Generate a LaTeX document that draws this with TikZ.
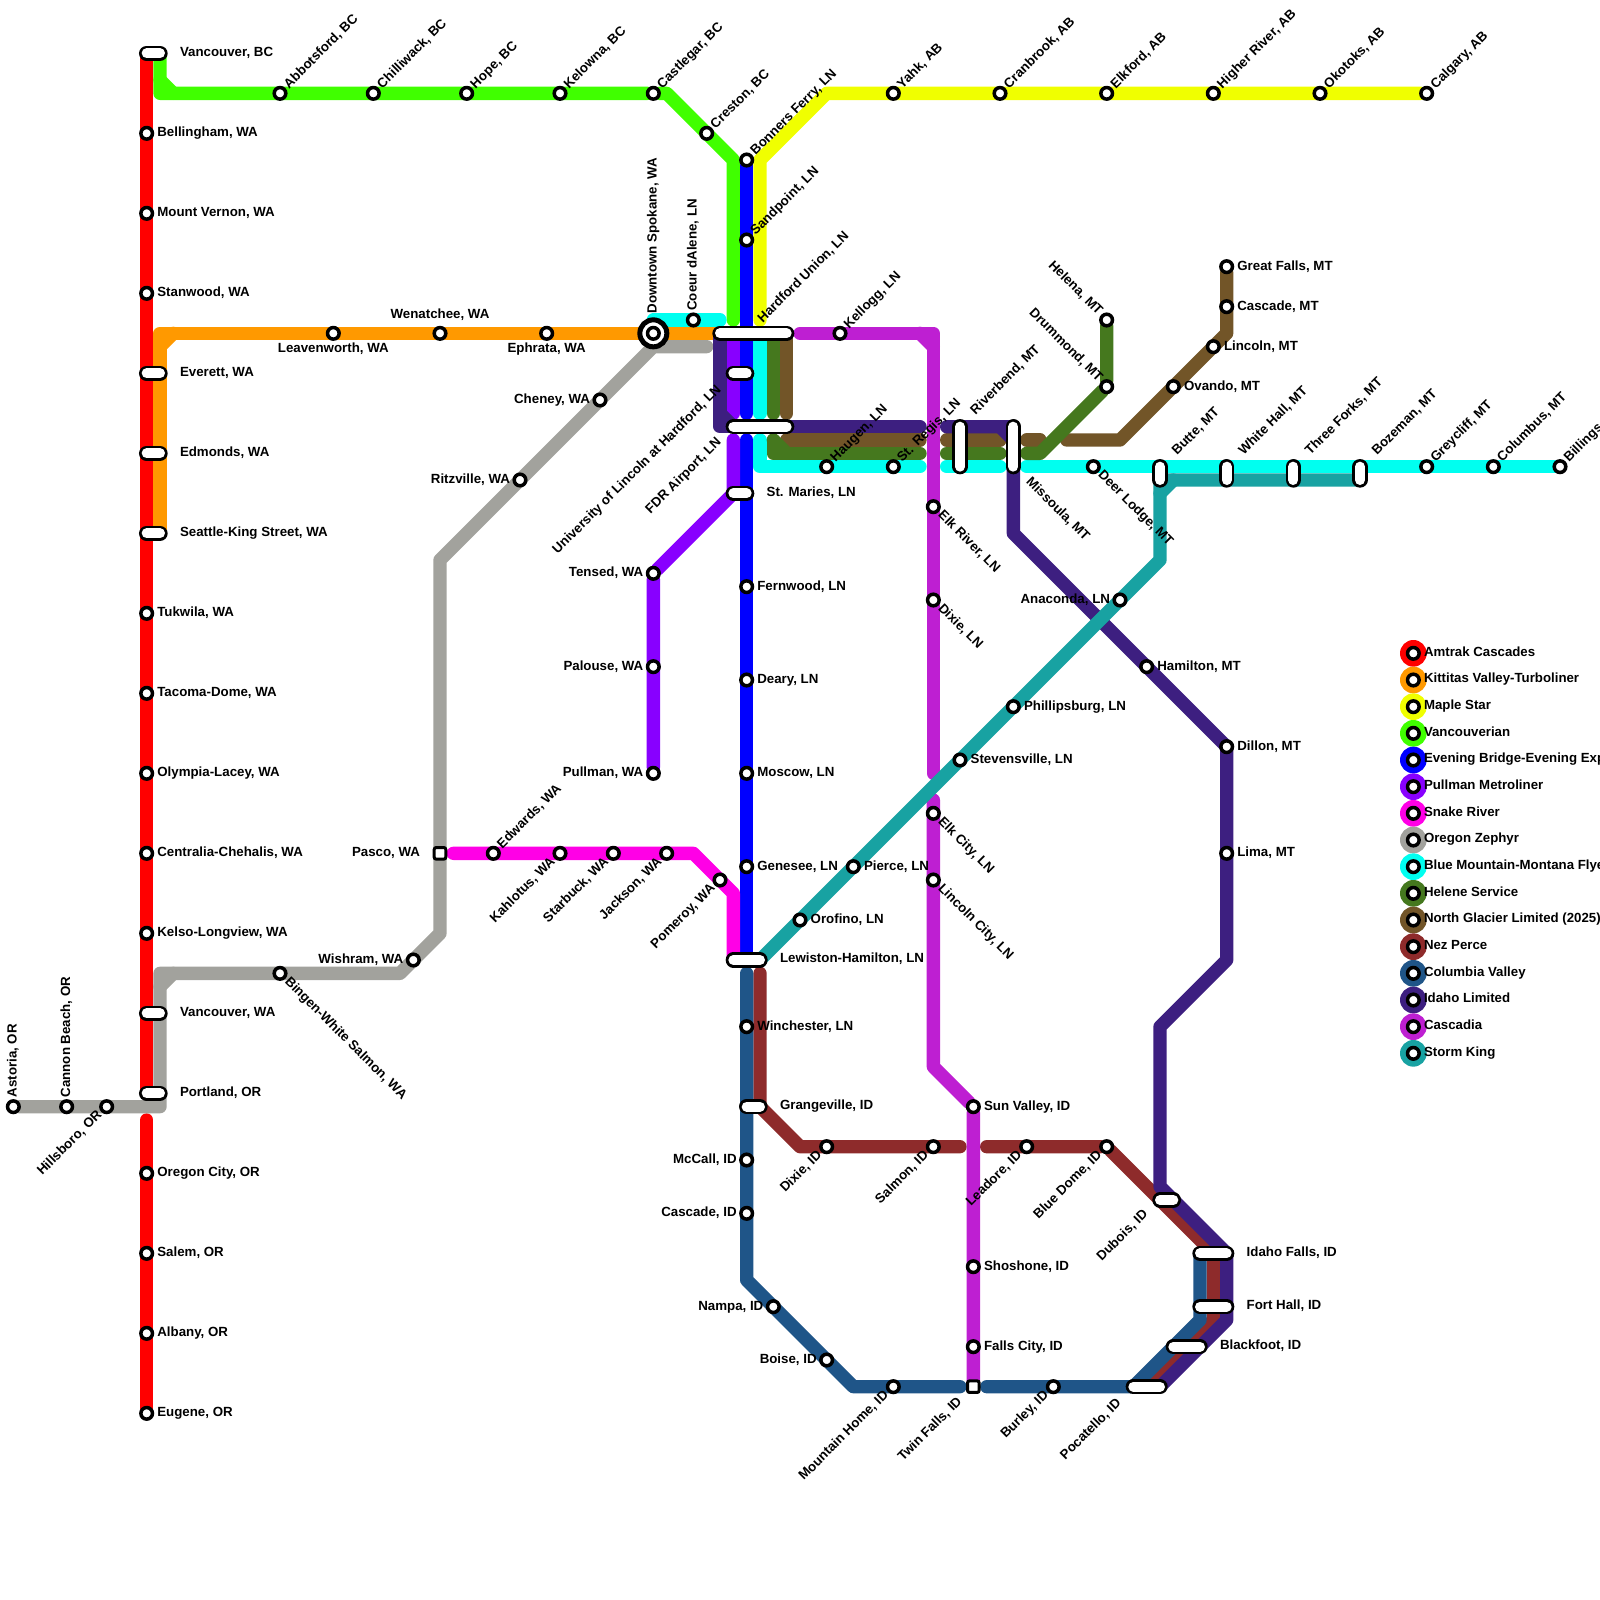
\documentclass[tikz,border=0pt]{standalone}
\usepackage{fontspec}
\setmainfont{Liberation Sans}
\usetikzlibrary{calc}
\pgfdeclarelayer{lines}
\pgfsetlayers{lines,main}
\definecolor{cRed}{HTML}{FF0000}
\definecolor{cOrange}{HTML}{FF9900}
\definecolor{cYellow}{HTML}{F0FF00}
\definecolor{cGreen}{HTML}{40FF00}
\definecolor{cBlue}{HTML}{0000FF}
\definecolor{cPull}{HTML}{8800FF}
\definecolor{cSnake}{HTML}{FF00E6}
\definecolor{cGray}{HTML}{A2A29D}
\definecolor{cCyan}{HTML}{00FFF0}
\definecolor{cHelene}{HTML}{45781E}
\definecolor{cBrown}{HTML}{725528}
\definecolor{cNez}{HTML}{8E2B2B}
\definecolor{cCol}{HTML}{1F5588}
\definecolor{cIdaho}{HTML}{3D1F80}
\definecolor{cCasc}{HTML}{BE1FD2}
\definecolor{cStorm}{HTML}{18A2A2}
\tikzset{
  rail/.style={line width=13.333pt,line cap=round,line join=round},
  stnode/.style={circle,draw=black,fill=white,line width=3.5pt,minimum size=11.6pt,inner sep=0pt,outer sep=0pt},
  sqnode/.style={rectangle,rounded corners=2pt,draw=black,fill=white,line width=3pt,minimum size=11.6pt,inner sep=0pt,outer sep=0pt},
  bignode/.style={circle,draw=black,fill=white,line width=5pt,minimum size=27pt,inner sep=0pt,outer sep=0pt},
  legdisc/.style={circle,inner sep=0pt,outer sep=0pt,minimum size=26.67pt},
  pillshape/.style={draw=black,double=white,double distance=10pt,line width=2.67pt,line cap=round},
  txt/.style={font=\fontsize{13.3}{16}\selectfont\bfseries,text=black,inner sep=0pt,outer sep=0pt,text height=9.6pt,text depth=2.8pt},
  legtxt/.style={txt,font=\fontsize{13.25}{16}\selectfont\bfseries,anchor=west},
  tE/.style={txt,anchor=west},
  tW/.style={txt,anchor=east},
  tNE/.style={txt,anchor=west,rotate=45},
  tSE/.style={txt,anchor=west,rotate=-45},
  tSW/.style={txt,anchor=east,rotate=45},
  tNW/.style={txt,anchor=east,rotate=-45},
  tN/.style={txt,anchor=west,rotate=90},
  tC/.style={txt,anchor=center},
}
\newcommand\labE[2]{\node[tE] (#1-l) at ($(#1.center)+(.8,0)$) {#2};}
\newcommand\labW[2]{\node[tW] (#1-l) at ($(#1.center)+(-.75,0)$) {#2};}
\newcommand\labNE[2]{\node[tNE] (#1-l) at ($(#1.center)+(.5,-.5)$) {#2};}
\newcommand\labSE[2]{\node[tSE] (#1-l) at ($(#1.center)+(.5,.5)$) {#2};}
\newcommand\labSW[2]{\node[tSW] (#1-l) at ($(#1.center)+(-.5,.5)$) {#2};}
\newcommand\labNW[2]{\node[tNW] (#1-l) at ($(#1.center)+(-.5,-.5)$) {#2};}
\newcommand\labN[2]{\node[tN] (#1-l) at ($(#1.center)+(0,-.7)$) {#2};}
\newcommand\stn[5]{\node[stnode] (#1) at (#2,#3) {}; \csname lab#4\endcsname{#1}{#5}}
\newcommand\stx[3]{\node[stnode] (#1) at (#2,#3) {};}
% pill: name, x1,y1,x2,y2, label x,y, style, text
\newcommand\pill[9]{\coordinate (#1-a) at (#2,#3); \coordinate (#1-b) at (#4,#5);
  \draw[pillshape] (#1-a) -- (#1-b); \node[#8] (#1-l) at (#6,#7) {#9};}
\newcommand\legend[4]{\node[legdisc,fill=#2] (#1-d) at (106,#3) {}; \node[stnode] (#1) at (106,#3) {};
  \node[legtxt] (#1-l) at (106.8,#3-.05) {#4};}
\begin{document}
\begin{tikzpicture}[x=13.3333pt,y=-13.3333pt]
\useasboundingbox (0,0) rectangle (120,120);
% ---- Amtrak Cascades
\stn{bell}{11}{10}{E}{Bellingham, WA}
\stn{mtv}{11}{16}{E}{Mount Vernon, WA}
\stn{stan}{11}{22}{E}{Stanwood, WA}
\stn{tuk}{11}{46}{E}{Tukwila, WA}
\stn{tac}{11}{52}{E}{Tacoma-Dome, WA}
\stn{oly}{11}{58}{E}{Olympia-Lacey, WA}
\stn{cen}{11}{64}{E}{Centralia-Chehalis, WA}
\stn{kel}{11}{70}{E}{Kelso-Longview, WA}
\stn{orc}{11}{88}{E}{Oregon City, OR}
\stn{sal}{11}{94}{E}{Salem, OR}
\stn{alb}{11}{100}{E}{Albany, OR}
\stn{eug}{11}{106}{E}{Eugene, OR}
\pill{vbc}{11}{4}{12}{4}{13.5}{3.95}{tE}{Vancouver, BC}
\pill{eve}{11}{28}{12}{28}{13.5}{27.95}{tE}{Everett, WA}
\pill{edm}{11}{34}{12}{34}{13.5}{33.95}{tE}{Edmonds, WA}
\pill{sea}{11}{40}{12}{40}{13.5}{39.95}{tE}{Seattle-King Street, WA}
\pill{vwa}{11}{76}{12}{76}{13.5}{75.95}{tE}{Vancouver, WA}
\pill{por}{11}{82}{12}{82}{13.5}{81.95}{tE}{Portland, OR}
% ---- Vancouverian
\stn{abb}{21}{7}{NE}{Abbotsford, BC}
\stn{chi}{28}{7}{NE}{Chilliwack, BC}
\stn{hop}{35}{7}{NE}{Hope, BC}
\stn{kow}{42}{7}{NE}{Kelowna, BC}
\stn{cas}{49}{7}{NE}{Castlegar, BC}
\stn{cre}{53}{10}{NE}{Creston, BC}
% ---- Kittitas
\stx{lea}{25}{25}
\node[tC] (lea-t) at (25,26.2) {Leavenworth, WA};
\stx{wen}{33}{25}
\node[tC] (wen-t) at (33,23.65) {Wenatchee, WA};
\stx{eph}{41}{25}
\node[tC] (eph-t) at (41,26.2) {Ephrata, WA};
\node[bignode] (dsp-o) at (49,25) {};
\stx{dsp}{49}{25}
\node[tN] (dsp-t) at (49,23.5) {Downtown Spokane, WA};
% ---- Maple Star
\stn{yah}{67}{7}{NE}{Yahk, AB}
\stn{cra}{75}{7}{NE}{Cranbrook, AB}
\stn{elk}{83}{7}{NE}{Elkford, AB}
\stn{hir}{91}{7}{NE}{Higher River, AB}
\stn{oko}{99}{7}{NE}{Okotoks, AB}
\stn{cal}{107}{7}{NE}{Calgary, AB}
% ---- Evening Bridge
\stn{bon}{56}{12}{NE}{Bonners Ferry, LN}
\stn{san}{56}{18}{NE}{Sandpoint, LN}
\stn{fer}{56}{44}{E}{Fernwood, LN}
\stn{dea}{56}{51}{E}{Deary, LN}
\stn{mos}{56}{58}{E}{Moscow, LN}
\stn{gen}{56}{65}{E}{Genesee, LN}
\pill{hu}{54}{25}{59}{25}{57.03}{24.07}{tNE}{Hardford Union, LN}
\pill{uni}{55}{28}{56}{28}{53.95}{29.1}{tSW}{University of Lincoln at Hardford, LN}
\pill{fdr}{55}{32}{59}{32}{53.95}{33.05}{tSW}{FDR Airport, LN}
\pill{stm}{55}{37}{56}{37}{57.5}{36.95}{tE}{St. Maries, LN}
\pill{lew}{55}{72}{57}{72}{58.5}{71.95}{tE}{Lewiston-Hamilton, LN}
% ---- Pullman
\stn{ten}{49}{43}{W}{Tensed, WA}
\stn{pal}{49}{50}{W}{Palouse, WA}
\stn{pul}{49}{58}{W}{Pullman, WA}
% ---- Snake River
\node[sqnode] (pas) at (33,64) {};
\node[tW] (pas-l) at (31.5,63.95) {Pasco, WA};
\stn{edw}{37}{64}{NE}{Edwards, WA}
\stn{kah}{42}{64}{SW}{Kahlotus, WA}
\stn{sta}{46}{64}{SW}{Starbuck, WA}
\stn{jac}{50}{64}{SW}{Jackson, WA}
\stn{pom}{54}{66}{SW}{Pomeroy, WA}
% ---- Oregon Zephyr
\stn{ast}{1}{83}{N}{Astoria, OR}
\stn{can}{5}{83}{N}{Cannon Beach, OR}
\stn{hil}{8}{83}{SW}{Hillsboro, OR}
\stn{bin}{21}{73}{SE}{Bingen-White Salmon, WA}
\stn{wis}{31}{72}{W}{Wishram, WA}
\stn{rit}{39}{36}{W}{Ritzville, WA}
\stn{che}{45}{30}{W}{Cheney, WA}
% ---- Blue Mountain
\stn{coe}{52}{24}{N}{Coeur dAlene, LN}
\stn{hau}{62}{35}{NE}{Haugen, LN}
\stn{reg}{67}{35}{NE}{St. Regis, LN}
\stn{dee}{82}{35}{SE}{Deer Lodge, MT}
\stn{gre}{107}{35}{NE}{Greycliff, MT}
\stn{col}{112}{35}{NE}{Columbus, MT}
\stn{bil}{117}{35}{NE}{Billings, MT}
\pill{riv}{72}{32}{72}{35}{73}{30.95}{tNE}{Riverbend, MT}
\pill{mis}{76}{32}{76}{35}{77.1}{36}{tSE}{Missoula, MT}
\pill{but}{87}{35}{87}{36}{88.1}{34}{tNE}{Butte, MT}
\pill{whi}{92}{35}{92}{36}{93.1}{34}{tNE}{White Hall, MT}
\pill{thr}{97}{35}{97}{36}{98.1}{34}{tNE}{Three Forks, MT}
\pill{boz}{102}{35}{102}{36}{103.1}{34}{tNE}{Bozeman, MT}
% ---- Helene / North Glacier
\stn{hel}{83}{24}{NW}{Helena, MT}
\stn{dru}{83}{29}{NW}{Drummond, MT}
\stn{grf}{92}{20}{E}{Great Falls, MT}
\stn{cmt}{92}{23}{E}{Cascade, MT}
\stn{lin}{91}{26}{E}{Lincoln, MT}
\stn{ova}{88}{29}{E}{Ovando, MT}
% ---- Nez Perce
\stn{dix}{62}{86}{SW}{Dixie, ID}
\stn{slm}{70}{86}{SW}{Salmon, ID}
\stn{lea2}{77}{86}{SW}{Leadore, ID}
\stn{blu}{83}{86}{SW}{Blue Dome, ID}
\pill{dub}{87}{90}{88}{90}{85.95}{90.95}{tSW}{Dubois, ID}
\pill{ida}{90}{94}{92}{94}{93.5}{93.95}{tE}{Idaho Falls, ID}
\pill{for}{90}{98}{92}{98}{93.5}{97.95}{tE}{Fort Hall, ID}
\pill{bla}{88}{101}{90}{101}{91.5}{100.95}{tE}{Blackfoot, ID}
\pill{poc}{85}{104}{87}{104}{83.95}{105.1}{tSW}{Pocatello, ID}
% ---- Columbia Valley
\stn{win}{56}{77}{E}{Winchester, LN}
\pill{gra}{56}{83}{57}{83}{58.5}{82.95}{tE}{Grangeville, ID}
\stn{mcc}{56}{87}{W}{McCall, ID}
\stn{cid}{56}{91}{W}{Cascade, ID}
\stn{nam}{58}{98}{W}{Nampa, ID}
\stn{boi}{62}{102}{W}{Boise, ID}
\stn{mou}{67}{104}{SW}{Mountain Home, ID}
\node[sqnode] (twi) at (73,104) {};
\node[tSW] (twi-l) at (72,105) {Twin Falls, ID};
\stn{bur}{79}{104}{SW}{Burley, ID}
% ---- Idaho Limited
\stn{ham}{86}{50}{E}{Hamilton, MT}
\stn{dil}{92}{56}{E}{Dillon, MT}
\stn{lim}{92}{64}{E}{Lima, MT}
% ---- Cascadia
\stn{kgg}{63}{25}{NE}{Kellogg, LN}
\stn{elr}{70}{38}{SE}{Elk River, LN}
\stn{dln}{70}{45}{SE}{Dixie, LN}
\stn{elc}{70}{61}{SE}{Elk City, LN}
\stn{lic}{70}{66}{SE}{Lincoln City, LN}
\stn{sun}{73}{83}{E}{Sun Valley, ID}
\stn{sho}{73}{95}{E}{Shoshone, ID}
\stn{fal}{73}{101}{E}{Falls City, ID}
% ---- Storm King
\stn{ana}{84}{45}{W}{Anaconda, LN}
\stn{phi}{76}{53}{E}{Phillipsburg, LN}
\stn{ste}{72}{57}{E}{Stevensville, LN}
\stn{pie}{64}{65}{E}{Pierce, LN}
\stn{oro}{60}{69}{E}{Orofino, LN}
% ---- Legend
\legend{l1}{cRed}{49}{Amtrak Cascades}
\legend{l2}{cOrange}{51}{Kittitas Valley-Turboliner}
\legend{l3}{cYellow}{53}{Maple Star}
\legend{l4}{cGreen}{55}{Vancouverian}
\legend{l5}{cBlue}{57}{Evening Bridge-Evening Express}
\legend{l6}{cPull}{59}{Pullman Metroliner}
\legend{l7}{cSnake}{61}{Snake River}
\legend{l8}{cGray}{63}{Oregon Zephyr}
\legend{l9}{cCyan}{65}{Blue Mountain-Montana Flyer}
\legend{l10}{cHelene}{67}{Helene Service}
\legend{l11}{cBrown}{69}{North Glacier Limited (2025)}
\legend{l12}{cNez}{71}{Nez Perce}
\legend{l13}{cCol}{73}{Columbia Valley}
\legend{l14}{cIdaho}{75}{Idaho Limited}
\legend{l15}{cCasc}{77}{Cascadia}
\legend{l16}{cStorm}{79}{Storm King}
% ---- Lines
\begin{pgfonlayer}{lines}
\draw[rail,cRed] (vbc-a) -- (por-a);
\draw[rail,cRed] (11,84) -- (eug);
\draw[rail,cOrange] (sea-b) -- (12,25) -- (dsp) -- (hu-a);
\draw[rail,cOrange] (12,26) -- (13,25);
\draw[rail,cYellow] (57,24) -- (57,12) -- (62,7) -- (cal);
\draw[rail,cGreen] (vbc-b) -- (12,7) -- (cas) -- (50,7) -- (55,12) -- (55,24);
\draw[rail,cGreen] (12,6) -- (13,7);
\draw[rail,cBlue] (bon) -- (56,31);
\draw[rail,cBlue] (56,33) -- (56,72);
\draw[rail,cPull] (55,25) -- (55,31);
\draw[rail,cPull] (55,33) -- (stm-a) -- (ten) -- (pul);
\draw[rail,cSnake] (34,64) -- (52,64) -- (55,67) -- (lew-a);
\draw[rail,cGray] (ast) -- (12,83) -- (12,73) -- (30,73) -- (33,70) -- (33,42) -- (49,26) -- (53,26);
\draw[rail,cGray] (12,74) -- (13,73);
\draw[rail,cCyan] (49,24) -- (54,24);
\draw[rail,cCyan] (57,25) -- (57,31);
\draw[rail,cCyan] (57,33) -- (57,35) -- (69,35);
\draw[rail,cCyan] (71,35) -- (75,35);
\draw[rail,cCyan] (77,35) -- (bil);
\draw[rail,cBrown] (59,25) -- (59,31);
\draw[rail,cBrown] (59,33) -- (69,33);
\draw[rail,cBrown] (71,33) -- (75,33);
\draw[rail,cBrown] (77,33) -- (78,33);
\draw[rail,cBrown] (80,33) -- (84,33) -- (92,25) -- (grf);
\draw[rail,cHelene] (58,25) -- (58,31);
\draw[rail,cHelene] (58,33) -- (58,34) -- (69,34);
\draw[rail,cHelene] (58,33) -- (59,34);
\draw[rail,cHelene] (71,34) -- (75,34);
\draw[rail,cHelene] (77,34) -- (78,34) -- (dru) -- (hel);
\draw[rail,cNez] (57,73) -- (gra-b) -- (60,86) -- (72,86);
\draw[rail,cNez] (74,86) -- (blu) -- (91,94) -- (91,99) -- (86,104);
\draw[rail,cCol] (56,73) -- (56,96) -- (64,104) -- (72,104);
\draw[rail,cCol] (74,104) -- (85,104) -- (90,99) -- (90,94);
\draw[rail,cIdaho] (54,25) -- (54,32) -- (69,32);
\draw[rail,cIdaho] (54,31) -- (55,32);
\draw[rail,cIdaho] (71,32) -- (76,32) -- (76,40) -- (92,56) -- (92,72) -- (87,77) -- (87,89) -- (92,94) -- (92,99) -- (87,104);
\draw[rail,cIdaho] (75,32) -- (76,33);
\draw[rail,cCasc] (60,25) -- (70,25) -- (70,58);
\draw[rail,cCasc] (69,25) -- (70,26);
\draw[rail,cCasc] (70,60) -- (70,80) -- (sun) -- (twi);
\draw[rail,cStorm] (102,36) -- (87,36) -- (87,42) -- (57,72);
\draw[rail,cStorm] (87,37) -- (88,36);
\end{pgfonlayer}
\end{tikzpicture}
\end{document}
